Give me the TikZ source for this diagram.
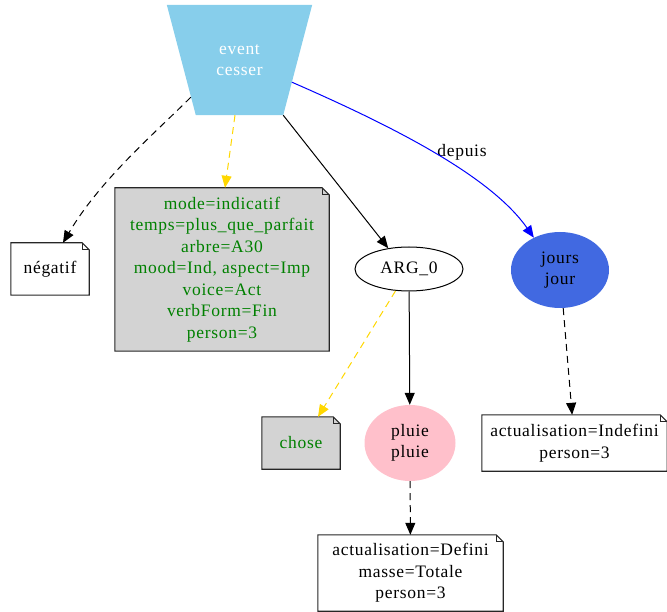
\documentclass[tikz,border=0pt]{standalone}
\usepackage{fontspec}
\setmainfont{Liberation Serif}[LetterSpace=4]
\usetikzlibrary{arrows.meta,shapes.geometric,backgrounds}
\definecolor{skyb}{HTML}{87CEEB}
\definecolor{lgray}{HTML}{D3D3D3}
\definecolor{dgreen}{HTML}{008000}
\definecolor{goldc}{HTML}{FFD700}
\definecolor{royal}{HTML}{4169E1}
\definecolor{pinkc}{HTML}{FFC0CB}
\newcommand\notepath[2]{%
  \begin{pgfonlayer}{background}
  \filldraw[fill=#2, draw=black!85, line width=1.1pt] (#1.north west) -- ([xshift=-7pt]#1.north east) -- ([yshift=-7pt]#1.north east) -- (#1.south east) -- (#1.south west) -- cycle;
  \draw[black!85, line width=0.8pt] ([xshift=-7pt]#1.north east) |- ([yshift=-7pt]#1.north east);
  \end{pgfonlayer}}
\begin{document}
\begin{tikzpicture}[x=1pt,y=-1pt,
  every node/.style={font=\fontsize{17.5}{21.5}\selectfont, align=center, inner sep=0pt},
  edge/.style={line width=1pt, -{Triangle[length=12pt,width=10pt]}},
  dashedge/.style={edge, dash pattern=on 7pt off 5pt},
  feattext/.style={text=dgreen}]
\useasboundingbox (0,0) rectangle (667,612);

% event (inverted trapezium)
\node[minimum width=145pt, minimum height=110pt, text=white] (event) at (239.5,60) {event\\cesser};
\begin{pgfonlayer}{background}
\fill[skyb] (event.north west) -- (event.north east) -- ([xshift=-29pt]event.south east) -- ([xshift=29pt]event.south west) -- cycle;
\end{pgfonlayer}

\node[minimum width=78pt, minimum height=52pt] (neg) at (50,269) {négatif};
\notepath{neg}{white}

\node[minimum width=214pt, minimum height=163pt, feattext] (feat) at (222,269.5)
  {mode=indicatif\\temps=plus\_que\_parfait\\arbre=A30\\mood=Ind, aspect=Imp\\voice=Act\\verbForm=Fin\\person=3};
\notepath{feat}{lgray}

\node[draw, ellipse, line width=1pt, minimum width=108pt, minimum height=44pt] (arg) at (409,269) {ARG\_0};

\node[ellipse, fill=royal, minimum width=98pt, minimum height=76pt] (jours) at (560,270) {jours\\jour};

\node[minimum width=78pt, minimum height=52pt, feattext] (chose) at (301,443) {chose};
\notepath{chose}{lgray}

\node[ellipse, fill=pinkc, minimum width=91pt, minimum height=76pt] (pluie) at (410,443) {pluie\\pluie};

\node[minimum width=185pt, minimum height=56pt] (indef) at (574.5,443) {actualisation=Indefini\\person=3};
\notepath{indef}{white}

\node[minimum width=185pt, minimum height=76pt] (defini) at (410.5,573) {actualisation=Defini\\masse=Totale\\person=3};
\notepath{defini}{white}

\node (lbl) at (462,152) {depuis};

% edges
\draw[dashedge] ([xshift=24pt,yshift=18pt]event.south west) .. controls (155,133) and (100,180) .. ([xshift=13pt]neg.north);
\draw[dashedge, goldc] ([xshift=-4.5pt]event.south) -- ([xshift=3pt]feat.north);
\draw[edge] ([xshift=-29pt]event.south east) -- (arg.135);
\draw[edge, blue] ([xshift=-20.3pt,yshift=33pt]event.south east) .. controls (390,125) and (490,175) .. (jours.129);
\draw[dashedge, goldc] (arg) -- ([xshift=17pt]chose.north);
\draw[edge] (arg) -- (pluie);
\draw[dashedge] (jours) -- (indef);
\draw[dashedge] (pluie) -- (defini);
\end{tikzpicture}
\end{document}
